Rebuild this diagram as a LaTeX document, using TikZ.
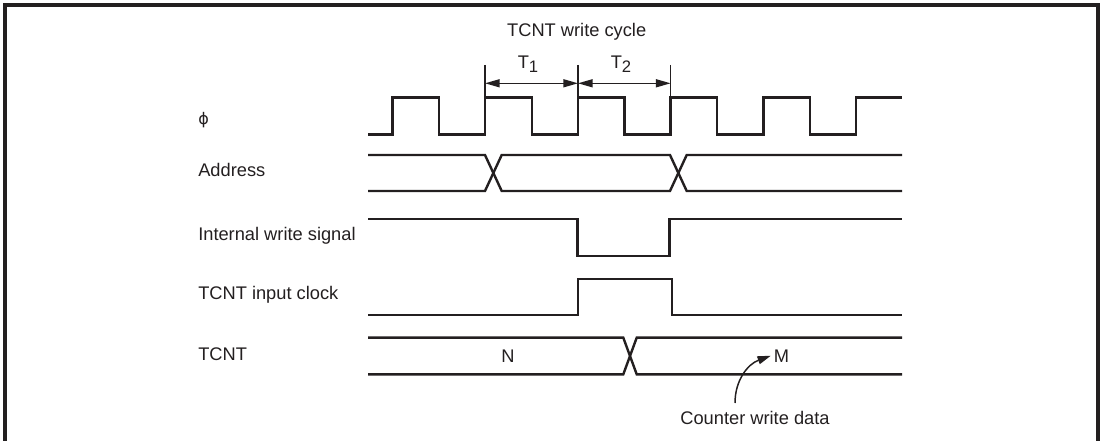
\documentclass[tikz,border=0pt]{standalone}
\usepackage{fontspec}
\setmainfont{Liberation Sans}
\newfontfamily\dejavu{DejaVu Sans}
\usetikzlibrary{arrows.meta}
\definecolor{ink}{RGB}{35,31,32}
\begin{document}
\begin{tikzpicture}[x=0.75pt,y=-0.75pt,
  wave/.style={line width=1.8pt, draw=ink, line join=miter},
  frame/.style={line width=2.4pt, draw=ink},
  txt/.style={inner sep=0pt, text=ink, font=\fontsize{13.7}{16}\selectfont},
  lbl/.style={txt, anchor=base west},
  ctr/.style={txt, anchor=base},
  dimarrow/.style={line width=1.1pt, draw=ink, {Triangle[length=11pt,width=6pt]}-{Triangle[length=11pt,width=6pt]}},
  ticks/.style={line width=1.1pt, draw=ink},
  callout/.style={line width=1.1pt, draw=ink, -{Triangle[length=10pt,width=6pt]}}]
\useasboundingbox (0,0) rectangle (1102,441);
% frame
\draw[frame] (5,441) -- (5,5) -- (1098,5) -- (1098,441);

% labels
\node[lbl] (lphi) at (198,125) {\dejavu\fontsize{12}{14}\selectfont ϕ};
\node[lbl] (laddr) at (198,176.7) {Address};
\node[lbl] (lint) at (198,240.7) {Internal write signal};
\node[lbl] (lclk) at (198,300) {TCNT input clock};
\node[lbl] (ltcnt) at (198,360) {TCNT};

% clock
\draw[wave] (368,134.5) -| (392.3,97.5) -| (439,134.5) -| (485,97.5) -| (531.7,134.5)
  -| (578,97.5) -| (624.5,134.5) -| (670.6,97.5) -| (717.2,134.5) -| (763.3,97.5)
  -| (810,134.5) -| (856,97.5) -- (902,97.5);

% write cycle dimension
\node[ctr] (wc) at (576.7,36.7) {TCNT write cycle};
\coordinate (a1) at (485,65); \coordinate (b1) at (485,97.5);
\coordinate (a2) at (578,65); \coordinate (b2) at (578,97.5);
\coordinate (a3) at (670.6,65); \coordinate (b3) at (670.6,97.5);
\draw[ticks] (a1) -- (b1);
\draw[ticks] (a2) -- (b2);
\draw[ticks] (a3) -- (b3);
\coordinate (d1) at (485,83.3);
\coordinate (d2) at (578,83.3);
\coordinate (d3) at (670.6,83.3);
\draw[dimarrow] (d1) -- (d2);
\draw[dimarrow] (d2) -- (d3);
\node[ctr] (t1) at (528,68.3) {T\raisebox{-3.5pt}{\fontsize{12.5}{14}\selectfont 1}};
\node[ctr] (t2) at (621,68.3) {T\raisebox{-3.5pt}{\fontsize{12.5}{14}\selectfont 2}};

% address
\draw[wave] (368,155) -- (485,155) -- (501.7,191) -- (670,191) -- (686.7,155) -- (902,155);
\draw[wave] (368,191) -- (485,191) -- (501.7,155) -- (670,155) -- (686.7,191) -- (902,191);

% internal write signal
\draw[wave] (368,219) -- (577.5,219) -- (577.5,256) -- (669.5,256) -- (669.5,219) -- (902,219);

% TCNT input clock
\draw[wave] (368,315) -- (578,315) -- (578,279) -- (672,279) -- (672,315) -- (902,315);

% TCNT
\draw[wave] (368,337.7) -- (623.3,337.7) -- (636.7,374.3) -- (902,374.3);
\draw[wave] (368,374.3) -- (623.3,374.3) -- (636.7,337.7) -- (902,337.7);
\node[ctr] (n) at (508,362) {N};
\node[ctr] (m) at (781.4,362) {M};

% counter write data
\node[ctr] (cwd) at (755,424.5) {Counter write data};
\coordinate (cs) at (735,403);
\draw[callout] (cs) .. controls (735,380) and (748,364) .. ([xshift=-2pt]m.west);
\end{tikzpicture}
\end{document}
